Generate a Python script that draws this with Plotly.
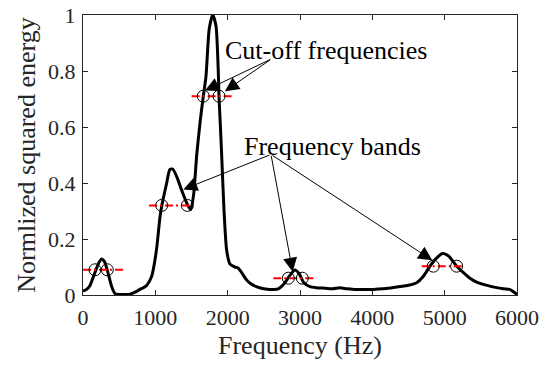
import plotly.graph_objects as go

# Spectrum curve (Hz, normalized squared energy)
freq = [0, 50, 97, 150, 189, 225, 258, 295, 327, 360, 396, 442, 500, 560, 650, 720, 788, 840, 880,
        950, 985, 1020, 1065, 1090, 1157, 1200, 1240, 1300, 1370, 1440, 1490, 1530, 1572, 1620,
        1663, 1700, 1745, 1793, 1839, 1870, 1880, 1900, 1917, 1950, 1986, 2033, 2100, 2140,
        2180, 2258, 2320, 2396, 2480, 2580, 2631, 2700, 2780, 2860, 2931, 2990, 3050, 3138,
        3230, 3350, 3450, 3553, 3650, 3750, 3850, 4014, 4150, 4250, 4383, 4500, 4613, 4700,
        4797, 4880, 4973, 5050, 5166, 5260, 5350, 5450, 5535, 5650, 5811, 5900, 5960, 6000]
energy = [0.014, 0.02, 0.034, 0.07, 0.097, 0.118, 0.129, 0.12, 0.097, 0.065, 0.03, 0.005, 0.002,
          0.002, 0.003, 0.01, 0.02, 0.027, 0.034, 0.067, 0.11, 0.17, 0.28, 0.32, 0.40, 0.448,
          0.45, 0.42, 0.37, 0.325, 0.305, 0.36, 0.50, 0.62, 0.71, 0.78, 0.95, 1.0, 0.96, 0.80,
          0.71, 0.60, 0.50, 0.30, 0.16, 0.11, 0.10, 0.097, 0.085, 0.055, 0.04, 0.03, 0.023, 0.02,
          0.02, 0.022, 0.04, 0.07, 0.089, 0.075, 0.045, 0.03, 0.026, 0.024, 0.022, 0.026, 0.022,
          0.02, 0.02, 0.02, 0.022, 0.025, 0.03, 0.035, 0.044, 0.065, 0.103, 0.13, 0.148, 0.14,
          0.103, 0.08, 0.06, 0.045, 0.038, 0.03, 0.022, 0.02, 0.01, 0.002]

# Band levels (red dash-dot) and cut-off frequencies (circles)
band_level = [0.09, 0.32, 0.71, 0.06, 0.103]
band_line_start = [0, 912, 1502, 2631, 4683]
band_line_end = [557, 1479, 2056, 3207, 5258]
cutoff_low = [166, 1088, 1663, 2839, 4843]
cutoff_high = [336, 1442, 1880, 3032, 5166]

x_ticks = [0, 1000, 2000, 3000, 4000, 5000, 6000]
y_ticks = [0, 0.2, 0.4, 0.6, 0.8, 1]

FONT = "Liberation Serif, Times New Roman, serif"
INK = "#262626"

fig = go.Figure()
fig.add_trace(go.Scatter(x=freq, y=energy, mode="lines",
                         line=dict(color="black", width=3, shape="spline", smoothing=0.6),
                         showlegend=False, hoverinfo="skip"))
for lv, s, e in zip(band_level, band_line_start, band_line_end):
    fig.add_trace(go.Scatter(x=[s, e], y=[lv, lv], mode="lines",
                             line=dict(color="red", width=2, dash="8px,3px,2px,3px"),
                             showlegend=False, hoverinfo="skip"))
fig.add_trace(go.Scatter(x=cutoff_low + cutoff_high, y=band_level + band_level, mode="markers",
                         marker=dict(symbol="circle-open", size=12, color="black", line=dict(width=1)),
                         showlegend=False, hoverinfo="skip"))

# Text labels
fig.add_annotation(x=1935, y=0.873, xref="x", yref="y", text="Cut-off frequencies",
                   showarrow=False, xanchor="left", yanchor="middle",
                   font=dict(family=FONT, size=26, color="black"))
fig.add_annotation(x=2194, y=0.53, xref="x", yref="y", text="Frequency bands",
                   showarrow=False, xanchor="left", yanchor="middle",
                   font=dict(family=FONT, size=26, color="black"))
# x-axis title placed precisely below the tick labels
fig.add_annotation(x=0.5, y=-0.18, xref="paper", yref="paper", text="Frequency (Hz)",
                   showarrow=False, xanchor="center", yanchor="middle",
                   font=dict(family=FONT, size=26, color=INK))

# Arrows (head, tail) in data coords
arrows = [((1687, 0.730), (2609, 0.8436)),
          ((1963, 0.728), (2609, 0.8436)),
          ((1387, 0.377), (2599, 0.502)),
          ((2899, 0.083), (2599, 0.502)),
          ((4829, 0.124), (2599, 0.502))]
for (hx, hy), (tx, ty) in arrows:
    fig.add_annotation(x=hx, y=hy, ax=tx, ay=ty, xref="x", yref="y", axref="x", ayref="y",
                       text="", showarrow=True, arrowhead=2, arrowsize=2.8, arrowwidth=1,
                       arrowcolor="black", standoff=0)

axis_common = dict(showline=True, linecolor=INK, linewidth=1, mirror="ticks", ticks="inside",
                   ticklen=5, tickcolor=INK, showgrid=False, zeroline=False, automargin=False,
                   tickfont=dict(family=FONT, size=22, color=INK))
fig.update_xaxes(range=[0, 6000], tickvals=x_ticks, ticklabelstandoff=3, **axis_common)
fig.update_yaxes(range=[0, 1], tickvals=y_ticks, ticklabelstandoff=2,
                 title=dict(text="Normlized squared energy", font=dict(family=FONT, size=26, color=INK), standoff=4),
                 **axis_common)
fig.update_layout(width=541, height=365, margin=dict(l=83, r=24, t=15, b=70, autoexpand=False),
                  font=dict(family=FONT, color=INK),
                  plot_bgcolor="white", paper_bgcolor="white")
fig.write_html("out.html")
